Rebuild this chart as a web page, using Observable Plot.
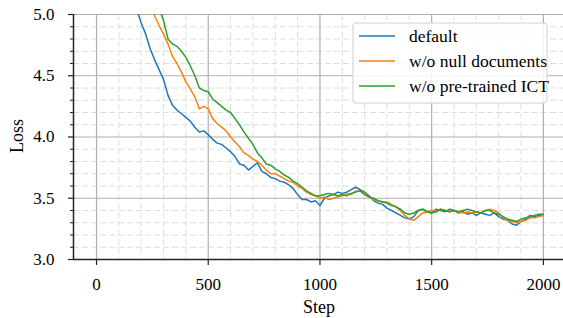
<!DOCTYPE html>
<html><head><meta charset="utf-8">
<script src="https://cdn.jsdelivr.net/npm/d3@7"></script>
<script src="https://cdn.jsdelivr.net/npm/@observablehq/plot@0.6"></script>
<style>
body{margin:0;background:#fff}
#chart{position:relative;width:563px;height:318px}
svg{overflow:visible}
</style>
</head><body><div id="chart"></div>
<script>
const seriesNames = ["default", "w/o null documents", "w/o pre-trained ICT"];
const seriesColors = ["#1f77b4", "#ff7f0e", "#2ca02c"];
const stepInterval = 20;
const seriesStarts = [160, 240, 280];

const defaultLoss = [5.18,5.04,4.93,4.84,4.72,4.63,4.55,4.47,4.34,4.26,4.22,4.19,4.16,4.13,4.08,4.04,4.05,4.02,3.98,3.95,
3.94,3.91,3.88,3.84,3.78,3.77,3.73,3.76,3.79,3.72,3.70,3.67,3.66,3.64,3.63,3.61,3.58,3.53,3.49,3.49,
3.47,3.48,3.44,3.50,3.52,3.53,3.55,3.54,3.55,3.57,3.59,3.57,3.55,3.52,3.48,3.46,3.45,3.42,3.40,3.38,
3.36,3.34,3.33,3.35,3.40,3.41,3.39,3.38,3.41,3.40,3.39,3.41,3.40,3.38,3.39,3.37,3.38,3.36,3.38,3.37,
3.36,3.38,3.35,3.33,3.32,3.29,3.28,3.31,3.33,3.36,3.35,3.36,3.36];

const nullDocLoss = [5.12,4.99,4.91,4.84,4.76,4.66,4.60,4.53,4.45,4.39,4.33,4.23,4.25,4.23,4.15,4.11,4.08,4.05,4.00,3.96,
3.92,3.87,3.85,3.82,3.80,3.77,3.73,3.70,3.70,3.68,3.66,3.64,3.63,3.60,3.58,3.55,3.53,3.52,3.50,3.51,
3.49,3.50,3.51,3.52,3.54,3.53,3.56,3.56,3.54,3.51,3.49,3.48,3.47,3.47,3.45,3.43,3.40,3.36,3.33,3.32,
3.35,3.38,3.39,3.40,3.39,3.41,3.40,3.39,3.40,3.39,3.38,3.39,3.38,3.39,3.38,3.40,3.41,3.40,3.38,3.34,
3.32,3.31,3.30,3.31,3.32,3.34,3.34,3.35,3.36];

const ictLoss = [5.05,4.95,4.80,4.76,4.74,4.70,4.65,4.58,4.50,4.40,4.38,4.37,4.31,4.28,4.25,4.22,4.20,4.15,4.10,4.04,
3.99,3.94,3.87,3.83,3.78,3.77,3.74,3.72,3.69,3.67,3.64,3.62,3.59,3.56,3.54,3.52,3.52,3.53,3.54,3.53,
3.52,3.53,3.52,3.54,3.55,3.56,3.53,3.51,3.50,3.48,3.47,3.46,3.44,3.43,3.41,3.38,3.37,3.38,3.40,3.41,
3.39,3.38,3.39,3.41,3.40,3.39,3.40,3.39,3.40,3.41,3.40,3.39,3.38,3.40,3.40,3.38,3.37,3.35,3.33,3.32,
3.31,3.33,3.34,3.35,3.36,3.37,3.37];

const xTicks = [0, 500, 1000, 1500, 2000];
const xMinorTicks = [100,200,300,400,600,700,800,900,1100,1200,1300,1400,1600,1700,1800,1900];
const yTicks = [3.0, 3.5, 4.0, 4.5, 5.0];
const yMinorTicks = [3.1,3.2,3.3,3.4,3.6,3.7,3.8,3.9,4.1,4.2,4.3,4.4,4.6,4.7,4.8,4.9];

const allLoss = [defaultLoss, nullDocLoss, ictLoss];
const rows = [];
allLoss.forEach((arr, si) => {
  arr.forEach((v, i) => rows.push({series: seriesNames[si], step: seriesStarts[si] + i * stepInterval, loss: v}));
});

const xDomain = [-103, 2090];
const yDomain = [3, 5];
const font = "'Liberation Serif', 'Times New Roman', serif";

const svg = Plot.plot({
  width: 563,
  height: 318,
  marginLeft: 73,
  marginRight: 0,
  marginTop: 14,
  marginBottom: 59,
  style: {fontFamily: font, fontSize: "17px", color: "#000", background: "#fff", overflow: "visible"},
  x: {domain: xDomain},
  y: {domain: yDomain},
  color: {domain: seriesNames, range: seriesColors},
  marks: [
    Plot.ruleY(yMinorTicks, {stroke: "#dedede", strokeWidth: 1, strokeDasharray: "6,3"}),
    Plot.ruleX(xMinorTicks, {stroke: "#dedede", strokeWidth: 1, strokeDasharray: "6,3"}),
    Plot.ruleY(yTicks, {stroke: "#b0b0b0", strokeWidth: 1.2}),
    Plot.ruleX(xTicks, {stroke: "#b0b0b0", strokeWidth: 1.2}),
    Plot.line(rows, {x: "step", y: "loss", z: "series", stroke: "series", strokeWidth: 1.5, clip: true}),
    Plot.axisY(yMinorTicks, {tickSize: 3, tickFormat: null, text: null, label: null, stroke: "#222", strokeWidth: 1}),
    Plot.axisY(yTicks, {tickSize: 5, tickPadding: 14, tickFormat: d3.format(".1f"), label: null, stroke: "#222", strokeWidth: 1.2, fontSize: 17}),
    Plot.axisX(xTicks, {tickSize: 6, tickPadding: 12, tickFormat: d => String(d), label: null, stroke: "#222", strokeWidth: 1.2, fontSize: 17}),
    Plot.ruleX([xDomain[0]], {stroke: "#222", strokeWidth: 1.5}),
    Plot.ruleY([yDomain[0]], {stroke: "#222", strokeWidth: 1.5})
  ]
});

const g = d3.select(svg).append("g").attr("font-family", font);
g.append("text").attr("x", 319).attr("y", 313).attr("text-anchor", "middle").attr("font-size", 18).text("Step");
g.append("text").attr("transform", "translate(23,136) rotate(-90)").attr("text-anchor", "middle").attr("font-size", 18).text("Loss");

const lg = g.append("g");
lg.append("rect").attr("x", 353).attr("y", 23).attr("width", 194).attr("height", 80).attr("rx", 3)
  .attr("fill", "#fff").attr("fill-opacity", 0.85).attr("stroke", "#d0d0d0");
seriesNames.forEach((name, i) => {
  const y = 36 + i * 25;
  lg.append("line").attr("x1", 359).attr("x2", 395).attr("y1", y).attr("y2", y)
    .attr("stroke", seriesColors[i]).attr("stroke-width", 1.5);
  lg.append("text").attr("x", 409).attr("y", y).attr("dy", "0.35em").attr("text-anchor", "start").attr("font-size", 17.5).text(name);
});

document.getElementById("chart").appendChild(svg);
</script>
</body></html>
